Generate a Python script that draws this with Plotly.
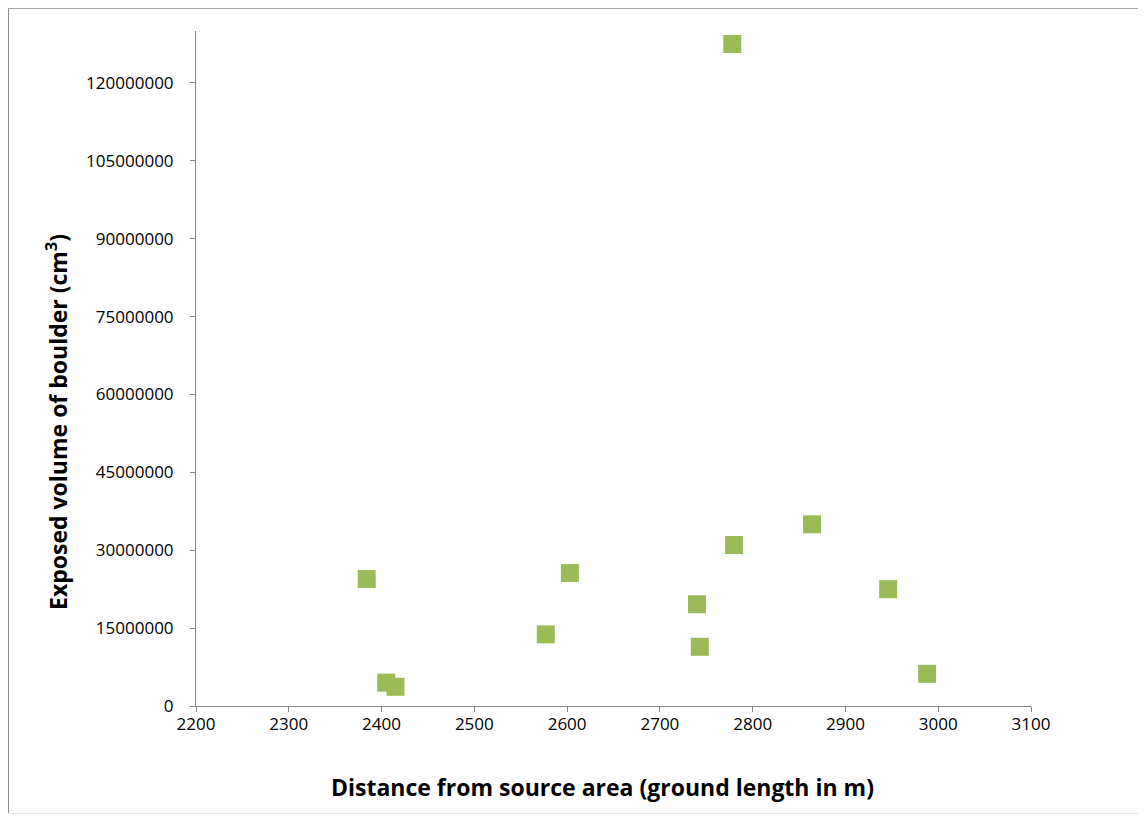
import plotly.graph_objects as go

distance_m = [2384, 2405, 2415, 2577, 2603, 2740, 2743, 2778, 2780, 2864, 2946, 2988]
volume_cm3 = [24450000, 4500000, 3700000, 13800000, 25600000, 19600000, 11400000,
              127500000, 31000000, 35000000, 22500000, 6200000]

x_ticks = [2200, 2300, 2400, 2500, 2600, 2700, 2800, 2900, 3000, 3100]
y_ticks = [0, 15000000, 30000000, 45000000, 60000000, 75000000, 90000000, 105000000, 120000000]

# page has an 8px body margin; figure spans page x 8..1140, y 8..814
W, H = 1132, 806
L, R, T, B = 188, 109, 23, 108
pw, ph = W - L - R, H - T - B

def fx(x):  # figure pixel x -> paper
    return (x - L) / pw

def fy(y):  # figure pixel y -> paper
    return (H - B - y) / ph

FONT = "Open Sans, Liberation Sans, sans-serif"
tick_font = dict(family=FONT, size=17, color="#000000")
title_font = dict(family=FONT, size=23, color="#000000")

fig = go.Figure()
fig.add_trace(go.Scatter(
    x=distance_m, y=volume_cm3, mode="markers",
    marker=dict(symbol="square", size=18, color="#9BBB59", line=dict(width=0)),
    showlegend=False,
))

fig.update_layout(
    width=W, height=H,
    margin=dict(l=L, r=R, t=T, b=B),
    paper_bgcolor="white", plot_bgcolor="white",
    font=tick_font,
    xaxis=dict(range=[2200, 3100], tickvals=x_ticks, ticktext=[str(v) for v in x_ticks],
               showgrid=False, zeroline=False, showline=True, linecolor="#868686", linewidth=1,
               ticks="outside", ticklen=5, tickcolor="#868686", tickfont=tick_font,
               ticklabelstandoff=-2),
    yaxis=dict(range=[0, 130000000], tickvals=y_ticks, ticktext=[str(v) for v in y_ticks],
               showgrid=False, zeroline=False, showline=True, linecolor="#868686", linewidth=1,
               ticks="outside", ticklen=5, tickcolor="#868686", tickfont=tick_font,
               ticklabelstandoff=13),
    annotations=[
        dict(text="<b>Exposed volume of boulder (cm<sup>3</sup>)</b>",
             xref="paper", yref="paper", x=fx(49), y=fy(414),
             xanchor="center", yanchor="middle", textangle=-90,
             showarrow=False, font=title_font),
        dict(text="<b>Distance from source area (ground length in m)</b>",
             xref="paper", yref="paper", x=fx(594), y=fy(779),
             xanchor="center", yanchor="middle",
             showarrow=False, font=title_font),
    ],
    shapes=[
        dict(type="line", xref="paper", yref="paper", x0=fx(0.5), x1=fx(0.5), y0=fy(0), y1=fy(H),
             line=dict(color="#8c8c8c", width=1)),
        dict(type="line", xref="paper", yref="paper", x0=fx(0), x1=fx(W), y0=fy(0.5), y1=fy(0.5),
             line=dict(color="#a6a6a6", width=1)),
        dict(type="line", xref="paper", yref="paper", x0=fx(0), x1=fx(W), y0=fy(H - 0.5), y1=fy(H - 0.5),
             line=dict(color="#e6e6e6", width=1)),
    ],
)

fig.write_html("out.html")
